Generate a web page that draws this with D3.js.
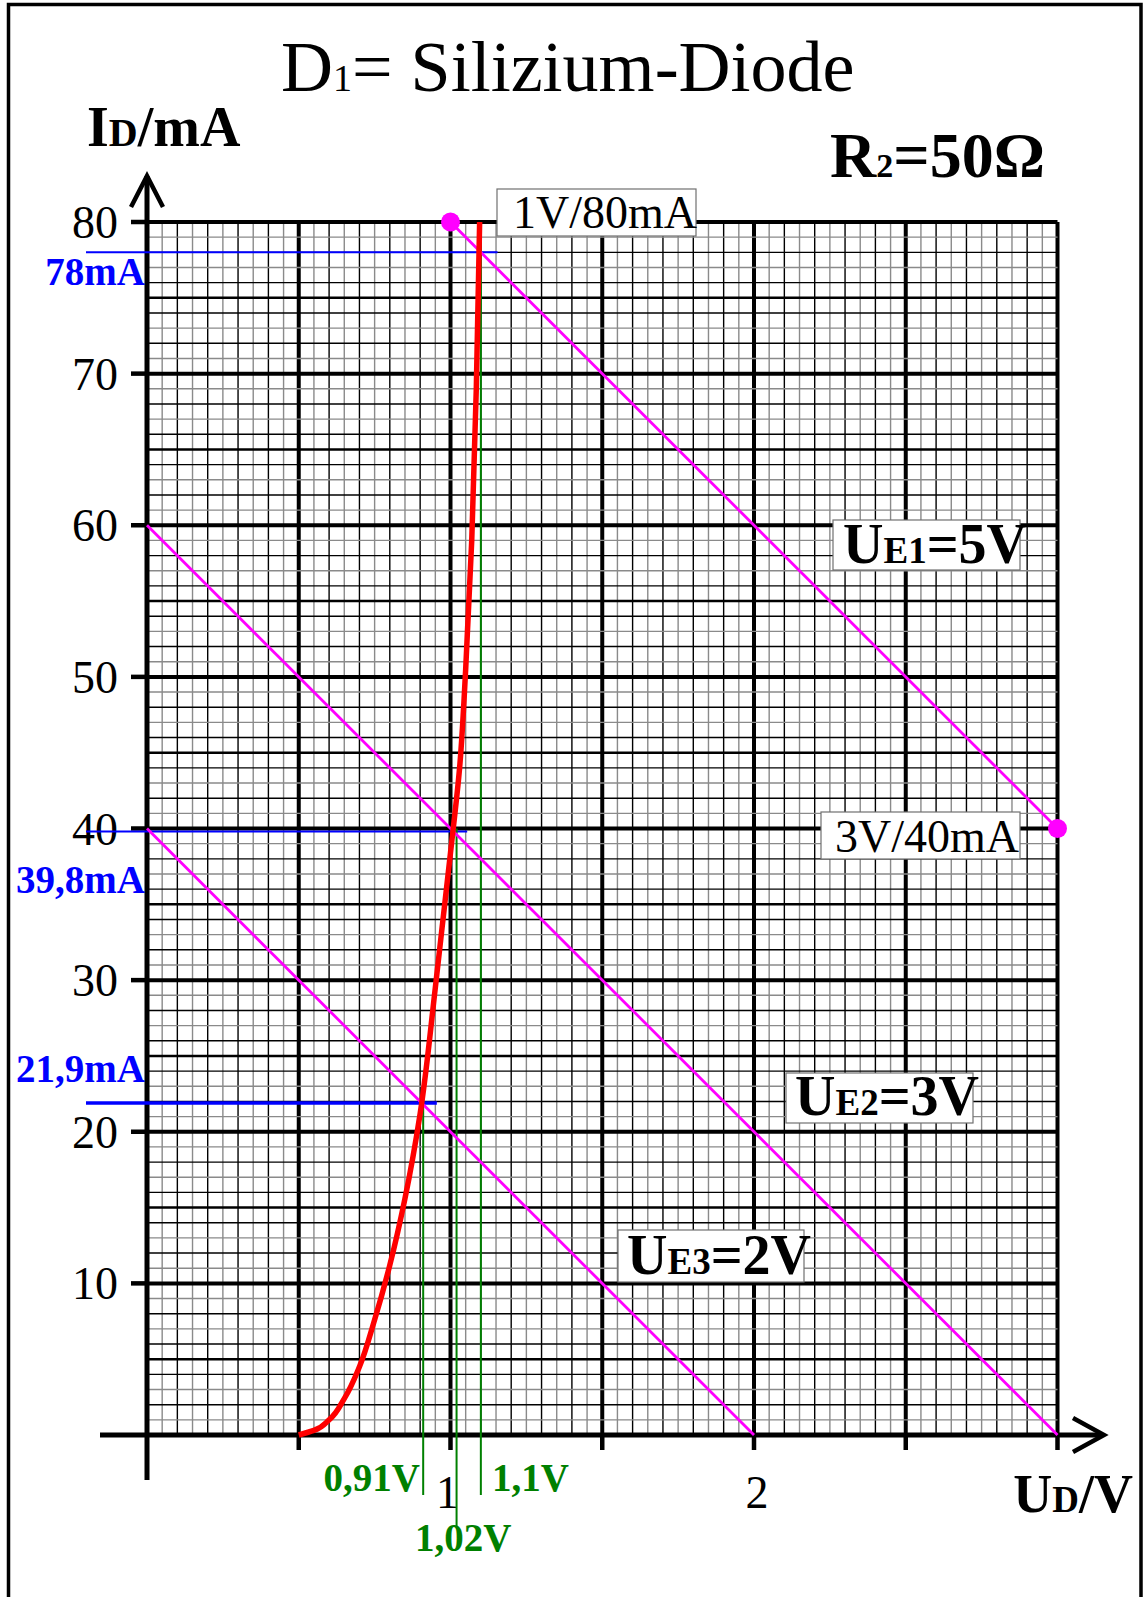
<!DOCTYPE html>
<html><head><meta charset="utf-8">
<script src="https://cdn.jsdelivr.net/npm/d3@7"></script>
<style>
body{margin:0;background:#fff}
svg{display:block}
text{font-family:"Liberation Serif","Times New Roman",serif}
</style>
</head><body>
<svg id="c" width="1143" height="1597"></svg>
<script>
// ---- data ----
const diodeU = [0.50, 0.55, 0.60, 0.65, 0.70, 0.75, 0.80, 0.85, 0.90, 0.95, 1.00, 1.03, 1.05, 1.07, 1.085, 1.096];
const diodeI = [0, 0.3, 1.0, 2.4, 4.5, 7.6, 11.2, 15.6, 21.2, 29.5, 38.4, 44, 50.5, 59, 69, 80];

const loadNames = ["UE1=5V", "UE2=3V", "UE3=2V"];
const loadU0 = [1, 0, 0];
const loadI0 = [80, 60, 40];
const loadU1 = [3, 3, 2];
const loadI1 = [40, 0, 0];

const markerU = [1, 3];
const markerI = [80, 40];
const markerLabels = ["1V/80mA", "3V/40mA"];

const opU = [0.91, 1.02, 1.1];
const opULabels = ["0,91V", "1,02V", "1,1V"];
const opI = [21.9, 39.8, 78];
const opILabels = ["21,9mA", "39,8mA", "78mA"];

const xTicks = [0.5, 1, 1.5, 2, 2.5, 3];
const xTickLabels = ["", "1", "", "2", "", ""];
const yTicks = [10, 20, 30, 40, 50, 60, 70, 80];
const yTickLabels = ["10", "20", "30", "40", "50", "60", "70", "80"];

const resistorLabel = "50Ω";

// ---- layout ----
const svg = d3.select("#c");
const x = d3.scaleLinear().domain([0, 3]).range([147, 1057.5]);
const y = d3.scaleLinear().domain([0, 80]).range([1435, 222]);

// frame
svg.append("path").attr("d", "M8.5,1600 V4.5 H1141 V1600")
  .attr("fill", "none").attr("stroke", "#000").attr("stroke-width", 3.5);

// grid
const g = svg.append("g");
d3.range(0, 61).forEach(i => {
  const v = i * 0.05;
  const thick = i % 10 === 0, even = i % 2 === 0;
  g.append("line").attr("x1", x(v)).attr("x2", x(v)).attr("y1", y(0)).attr("y2", y(80))
    .attr("stroke", thick || even ? "#000" : "#8a8a8a")
    .attr("stroke-width", thick ? 4 : 1.4);
});
d3.range(0, 81).forEach(i => {
  const thick = i % 10 === 0, mid = i % 5 === 0, even = i % 2 === 0;
  g.append("line").attr("y1", y(i)).attr("y2", y(i)).attr("x1", x(0)).attr("x2", x(3))
    .attr("stroke", thick || mid || even ? "#000" : "#8a8a8a")
    .attr("stroke-width", thick ? 4 : mid ? 2.4 : 1.4);
});

// axes
const ax = svg.append("g").attr("stroke", "#000").attr("fill", "none").attr("stroke-linecap", "butt");
ax.append("line").attr("x1", x(0)).attr("x2", x(0)).attr("y1", 176).attr("y2", 1480).attr("stroke-width", 5);
ax.append("line").attr("x1", 100).attr("x2", 1103).attr("y1", y(0)).attr("y2", y(0)).attr("stroke-width", 5);
ax.append("path").attr("d", `M${x(0) - 16},207 L${x(0)},176 L${x(0) + 16},207`).attr("stroke-width", 4.5);
ax.append("path").attr("d", `M1073,${y(0) - 17} L1104,${y(0)} L1073,${y(0) + 17}`).attr("stroke-width", 4.5);
yTicks.forEach(t => ax.append("line").attr("x1", x(0) - 16).attr("x2", x(0)).attr("y1", y(t)).attr("y2", y(t)).attr("stroke-width", 4.5));
xTicks.forEach(t => ax.append("line").attr("x1", x(t)).attr("x2", x(t)).attr("y1", y(0)).attr("y2", y(0) + 15).attr("stroke-width", 4.5));

yTicks.forEach((t, i) => svg.append("text").attr("x", 118).attr("y", y(t) + 16)
  .attr("text-anchor", "end").attr("font-size", 46).text(yTickLabels[i]));
const xLabelShift = [0, -3, 0, 3, 0, 0];
xTicks.forEach((t, i) => { if (xTickLabels[i]) svg.append("text").attr("x", x(t) + xLabelShift[i]).attr("y", 1508)
  .attr("text-anchor", "middle").attr("font-size", 46).text(xTickLabels[i]); });

// blue current readouts
const blueEnd = [0.955, 1.055, 1.155];
const blueW = [3.5, 2, 2];
opI.forEach((v, i) => svg.append("line").attr("x1", 86).attr("x2", x(blueEnd[i]))
  .attr("y1", y(v)).attr("y2", y(v)).attr("stroke", "#0000ff").attr("stroke-width", blueW[i]));

// green voltage readouts
const greenTop = [23, 40, 80];
const greenBottom = [1495, 1527, 1495];
opU.forEach((v, i) => svg.append("line").attr("x1", x(v)).attr("x2", x(v))
  .attr("y1", y(greenTop[i])).attr("y2", greenBottom[i]).attr("stroke", "#008000").attr("stroke-width", 2));

// load lines
loadNames.forEach((n, i) => svg.append("line")
  .attr("x1", x(loadU0[i])).attr("y1", y(loadI0[i])).attr("x2", x(loadU1[i])).attr("y2", y(loadI1[i]))
  .attr("stroke", "#ff00ff").attr("stroke-width", 2.8));

// diode curve
const pts = diodeU.map((u, i) => [u, diodeI[i]]);
svg.append("path").datum(pts)
  .attr("d", d3.line().x(d => x(d[0])).y(d => y(d[1])).curve(d3.curveMonotoneY))
  .attr("fill", "none").attr("stroke", "#ff0000").attr("stroke-width", 5.5);

// markers
markerU.forEach((u, i) => svg.append("circle").attr("cx", x(u)).attr("cy", y(markerI[i])).attr("r", 9.5).attr("fill", "#ff00ff"));

// boxes with labels
function box(x0, y0, x1, y1) {
  svg.append("rect").attr("x", x0).attr("y", y0).attr("width", x1 - x0).attr("height", y1 - y0)
    .attr("fill", "#fff").attr("stroke", "#707070").attr("stroke-width", 1.2);
}
box(497, 189, 696, 236);
svg.append("text").attr("x", 513).attr("y", 228).attr("font-size", 46).text(markerLabels[0]);
box(821, 812, 1020, 859);
svg.append("text").attr("x", 835).attr("y", 852).attr("font-size", 46).text(markerLabels[1]);

const ueBoxes = [[833, 520, 1020, 570, 843, 563], [786, 1073, 973, 1123, 795, 1115], [618, 1230, 804, 1282, 627, 1274]];
loadNames.forEach((n, i) => {
  const b = ueBoxes[i];
  box(b[0], b[1], b[2], b[3]);
  const t = svg.append("text").attr("x", b[4]).attr("y", b[5]).attr("font-weight", "bold");
  const m = n.match(/^U(E\d)(=.*)$/);
  t.append("tspan").attr("font-size", 56).text("U");
  t.append("tspan").attr("font-size", 37).text(m[1]);
  t.append("tspan").attr("font-size", 56).text(m[2]);
});

// green labels
const gl = [[420, 1491, "end"], [415, 1551, "start"], [492, 1491, "start"]];
opULabels.forEach((s, i) => svg.append("text").attr("x", gl[i][0]).attr("y", gl[i][1]).attr("text-anchor", gl[i][2])
  .attr("font-size", 39).attr("font-weight", "bold").attr("fill", "#008000").text(s));

// blue labels
const bl = [1082, 893, 285];
opILabels.forEach((s, i) => svg.append("text").attr("x", 145).attr("y", bl[i]).attr("text-anchor", "end")
  .attr("font-size", 39).attr("font-weight", "bold").attr("fill", "#0000ff").text(s));

// titles
const title = svg.append("text").attr("x", 281).attr("y", 91);
title.append("tspan").attr("font-size", 72).text("D");
title.append("tspan").attr("font-size", 38).text("1");
title.append("tspan").attr("font-size", 72).text("= Silizium-Diode");

const yl = svg.append("text").attr("x", 87).attr("y", 146).attr("font-weight", "bold");
yl.append("tspan").attr("font-size", 56).text("I");
yl.append("tspan").attr("font-size", 40).text("D");
yl.append("tspan").attr("font-size", 56).text("/mA");

const rl = svg.append("text").attr("x", 830).attr("y", 177).attr("font-weight", "bold");
rl.append("tspan").attr("font-size", 64).text("R");
rl.append("tspan").attr("font-size", 34).text("2");
rl.append("tspan").attr("font-size", 64).text("=" + resistorLabel);

const xl = svg.append("text").attr("x", 1133).attr("y", 1512).attr("text-anchor", "end").attr("font-weight", "bold");
xl.append("tspan").attr("font-size", 54).text("U");
xl.append("tspan").attr("font-size", 37).text("D");
xl.append("tspan").attr("font-size", 54).text("/V");
</script>
</body></html>
